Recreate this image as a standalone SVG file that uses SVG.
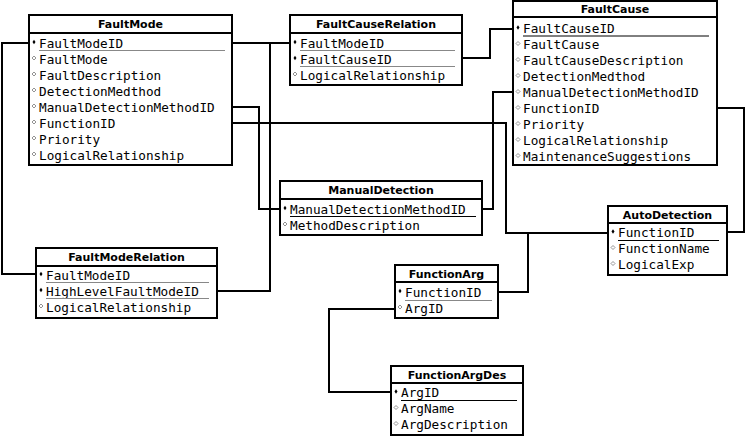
<svg xmlns="http://www.w3.org/2000/svg" xmlns:xlink="http://www.w3.org/1999/xlink" width="745" height="436" viewBox="0 0 745 436">
<style>
.box{fill:#fff;stroke:#000;stroke-width:2}
.dv{stroke:#000;stroke-width:2}
.hd{font-family:"DejaVu Sans",sans-serif;font-weight:bold;font-size:11px;text-anchor:middle;fill:#000}
.f{font-family:"DejaVu Sans Mono",monospace;font-size:12.7px;fill:#000}
.ul{stroke:#000;stroke-width:1}
.ulg{stroke:#888;stroke-width:1}
.c{fill:none;stroke:#000;stroke-width:2}
</style>
<defs>
<polygon id="kd" points="0,-2.2 1.5,0 0,2.2 -1.5,0" fill="#000"/>
<polygon id="od" points="0,-2 2,0 0,2 -2,0" fill="none" stroke="#777" stroke-width="0.8"/>
</defs>
<rect width="745" height="436" fill="#fff"/>
<g id="connectors">
<path class="c" d="M232,43 H290"/>
<path class="c" d="M270,43 V291 H217"/>
<path class="c" d="M29,43 H2 V274 H36"/>
<path class="c" d="M232,107 H259 V209 H280"/>
<path class="c" d="M232,123 H506 V233 H608"/>
<path class="c" d="M498,292 H528 V233"/>
<path class="c" d="M717,108 H744 V232 H727"/>
<path class="c" d="M513,92 H493 V209 H482"/>
<path class="c" d="M462,58 H490 V29 H513"/>
<path class="c" d="M395,309 H329 V392 H391"/>
</g>
<g id="FaultMode">
<rect class="box" x="29" y="15" width="203" height="150"/>
<line class="dv" x1="29" y1="33" x2="232" y2="33"/>
<text class="hd" x="130.5" y="28">FaultMode</text>
<use xlink:href="#kd" x="34" y="42"/>
<use xlink:href="#od" x="34" y="58"/>
<use xlink:href="#od" x="34" y="74"/>
<use xlink:href="#od" x="34" y="90"/>
<use xlink:href="#od" x="34" y="106"/>
<use xlink:href="#od" x="34" y="122"/>
<use xlink:href="#od" x="34" y="138"/>
<use xlink:href="#od" x="34" y="154"/>
<text class="f" x="39" y="47.5">FaultModeID</text>
<text class="f" x="39" y="63.5">FaultMode</text>
<text class="f" x="39" y="79.5">FaultDescription</text>
<text class="f" x="39" y="95.5">DetectionMedthod</text>
<text class="f" x="39" y="111.5">ManualDetectionMethodID</text>
<text class="f" x="39" y="127.5">FunctionID</text>
<text class="f" x="39" y="143.5">Priority</text>
<text class="f" x="39" y="159.5">LogicalRelationship</text>
<line class="ulg" x1="39" y1="50.5" x2="225" y2="50.5"/>
</g>
<g id="FaultCauseRelation">
<rect class="box" x="290" y="15" width="172" height="70"/>
<line class="dv" x1="290" y1="33" x2="462" y2="33"/>
<text class="hd" x="376" y="28">FaultCauseRelation</text>
<use xlink:href="#kd" x="295" y="42"/>
<use xlink:href="#kd" x="295" y="58"/>
<use xlink:href="#od" x="295" y="74"/>
<text class="f" x="300" y="47.5">FaultModeID</text>
<text class="f" x="300" y="63.5">FaultCauseID</text>
<text class="f" x="300" y="79.5">LogicalRelationship</text>
<line class="ulg" x1="300" y1="50.5" x2="455" y2="50.5"/>
<line class="ulg" x1="300" y1="66.5" x2="455" y2="66.5"/>
</g>
<g id="FaultCause">
<rect class="box" x="513" y="1" width="204" height="164"/>
<line class="dv" x1="513" y1="17" x2="717" y2="17"/>
<text class="hd" x="615" y="13">FaultCause</text>
<use xlink:href="#kd" x="518" y="27.5"/>
<use xlink:href="#od" x="518" y="43.5"/>
<use xlink:href="#od" x="518" y="59.5"/>
<use xlink:href="#od" x="518" y="75.5"/>
<use xlink:href="#od" x="518" y="91.5"/>
<use xlink:href="#od" x="518" y="107.5"/>
<use xlink:href="#od" x="518" y="123.5"/>
<use xlink:href="#od" x="518" y="139.5"/>
<use xlink:href="#od" x="518" y="155.5"/>
<text class="f" x="523" y="33">FaultCauseID</text>
<text class="f" x="523" y="49">FaultCause</text>
<text class="f" x="523" y="65">FaultCauseDescription</text>
<text class="f" x="523" y="81">DetectionMedthod</text>
<text class="f" x="523" y="97">ManualDetectionMethodID</text>
<text class="f" x="523" y="113">FunctionID</text>
<text class="f" x="523" y="129">Priority</text>
<text class="f" x="523" y="145">LogicalRelationship</text>
<text class="f" x="523" y="161">MaintenanceSuggestions</text>
<line class="ul" x1="523" y1="36" x2="709" y2="36"/>
</g>
<g id="ManualDetection">
<rect class="box" x="280" y="181" width="202" height="54"/>
<line class="dv" x1="280" y1="199" x2="482" y2="199"/>
<text class="hd" x="381" y="194">ManualDetection</text>
<use xlink:href="#kd" x="285" y="208"/>
<use xlink:href="#od" x="285" y="224"/>
<text class="f" x="290" y="213.5">ManualDetectionMethodID</text>
<text class="f" x="290" y="229.5">MethodDescription</text>
<line class="ul" x1="290" y1="216.5" x2="476" y2="216.5"/>
</g>
<g id="FaultModeRelation">
<rect class="box" x="36" y="248" width="181" height="70"/>
<line class="dv" x1="36" y1="266" x2="217" y2="266"/>
<text class="hd" x="126.5" y="261">FaultModeRelation</text>
<use xlink:href="#kd" x="41" y="274"/>
<use xlink:href="#kd" x="41" y="290"/>
<use xlink:href="#od" x="41" y="306"/>
<text class="f" x="46" y="279.5">FaultModeID</text>
<text class="f" x="46" y="295.5">HighLevelFaultModeID</text>
<text class="f" x="46" y="311.5">LogicalRelationship</text>
<line class="ulg" x1="46" y1="282.5" x2="209" y2="282.5"/>
<line class="ulg" x1="46" y1="298.5" x2="209" y2="298.5"/>
</g>
<g id="AutoDetection">
<rect class="box" x="608" y="206" width="119" height="69"/>
<line class="dv" x1="608" y1="223" x2="727" y2="223"/>
<text class="hd" x="667.5" y="219">AutoDetection</text>
<use xlink:href="#kd" x="613" y="231.5"/>
<use xlink:href="#od" x="613" y="247.5"/>
<use xlink:href="#od" x="613" y="263.5"/>
<text class="f" x="618" y="237">FunctionID</text>
<text class="f" x="618" y="253">FunctionName</text>
<text class="f" x="618" y="269">LogicalExp</text>
<line class="ul" x1="618" y1="240.5" x2="719" y2="240.5"/>
</g>
<g id="FunctionArg">
<rect class="box" x="395" y="265" width="103" height="53"/>
<line class="dv" x1="395" y1="282" x2="498" y2="282"/>
<text class="hd" x="446.5" y="278">FunctionArg</text>
<use xlink:href="#kd" x="400" y="291"/>
<use xlink:href="#od" x="400" y="307"/>
<text class="f" x="405" y="296.5">FunctionID</text>
<text class="f" x="405" y="312.5">ArgID</text>
<line class="ulg" x1="405" y1="300.5" x2="492" y2="300.5"/>
</g>
<g id="FunctionArgDes">
<rect class="box" x="391" y="366" width="132" height="69"/>
<line class="dv" x1="391" y1="383" x2="523" y2="383"/>
<text class="hd" x="457" y="379">FunctionArgDes</text>
<use xlink:href="#kd" x="396" y="391.5"/>
<use xlink:href="#od" x="396" y="407.5"/>
<use xlink:href="#od" x="396" y="423.5"/>
<text class="f" x="401" y="397">ArgID</text>
<text class="f" x="401" y="413">ArgName</text>
<text class="f" x="401" y="429">ArgDescription</text>
<line class="ul" x1="401" y1="400.5" x2="517" y2="400.5"/>
</g>
</svg>
